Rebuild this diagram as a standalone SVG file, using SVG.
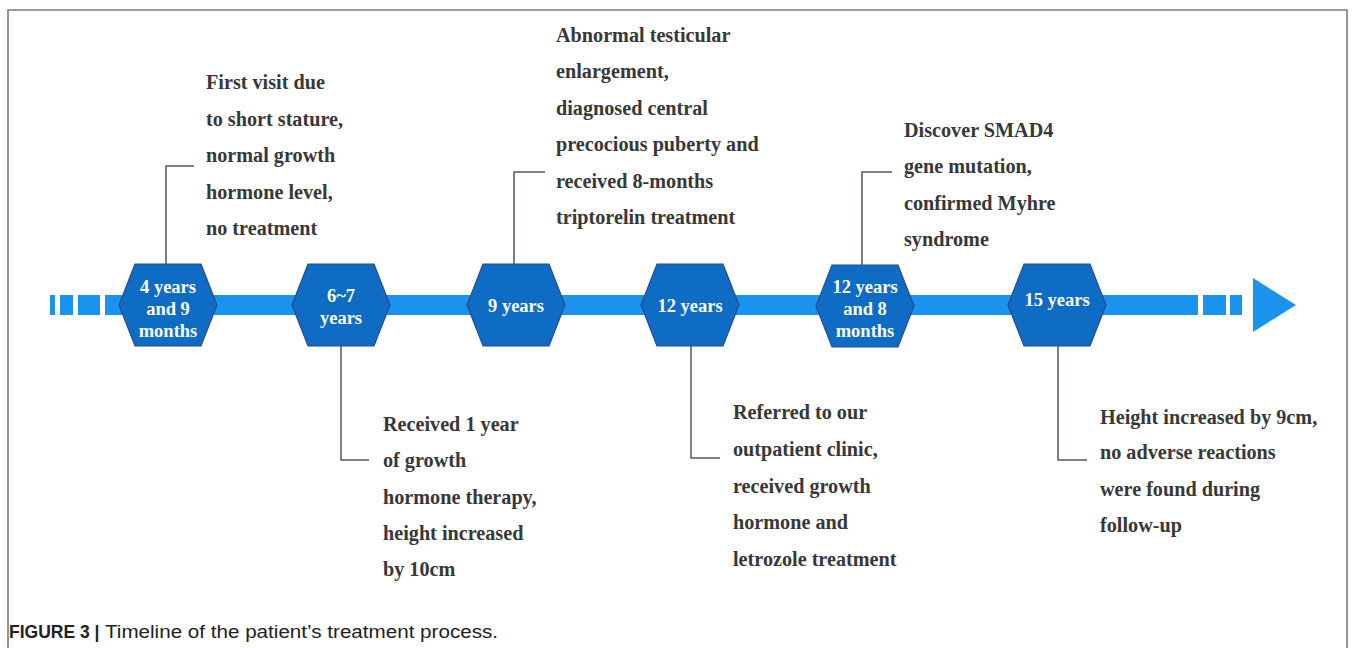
<svg xmlns="http://www.w3.org/2000/svg" width="1357" height="648" viewBox="0 0 1357 648">
<defs>
<style>
.frame{fill:none;stroke:#7a7a7a;stroke-width:1.6}
.bar{fill:#1a93ee}
.hex{fill:#0e6cc4;stroke:#2b4a8c;stroke-width:1.2}
.hl{font-family:"Liberation Serif","Times New Roman",serif;font-weight:bold;font-size:18.5px;fill:#ffffff;text-anchor:middle}
.tx{font-family:"Liberation Serif","Times New Roman",serif;font-weight:bold;font-size:20.2px;fill:#383838}
.conn{fill:none;stroke:#54566a;stroke-width:1.5}
.cap{font-family:"Liberation Sans",Arial,sans-serif;font-size:17.5px;fill:#222}
</style>
</defs>
<rect width="1357" height="648" fill="#ffffff"/>
<path class="frame" d="M8,648 V10 H1347 V648"/>
<g id="timeline">
<rect class="bar" x="50" y="295" width="5" height="20"/>
<rect class="bar" x="60" y="295" width="13" height="20"/>
<rect class="bar" x="78" y="295" width="22" height="20"/>
<rect class="bar" x="105" y="295" width="1093" height="20"/>
<rect class="bar" x="1203" y="295" width="23" height="20"/>
<rect class="bar" x="1230" y="295" width="12" height="20"/>
<polygon class="bar" points="1253,278 1296,305 1253,332"/>
</g>
<g id="connectors">
<path class="conn" d="M166,264 V166 H194"/>
<path class="conn" d="M341,346 V460 H369"/>
<path class="conn" d="M514,264 V172 H545"/>
<path class="conn" d="M691,346 V458 H720"/>
<path class="conn" d="M862,266 V172 H892"/>
<path class="conn" d="M1058,346 V460 H1087"/>
</g>
<g id="n1">
<polygon class="hex" transform="translate(168,305)" points="-49,0 -33,-41 33,-41 49,0 33,41 -33,41"/>
<text class="hl" x="168" y="293">4 years</text>
<text class="hl" x="168" y="315">and 9</text>
<text class="hl" x="168" y="337">months</text>
</g>
<g id="n2">
<polygon class="hex" transform="translate(341,305)" points="-49,0 -33,-41 33,-41 49,0 33,41 -33,41"/>
<text class="hl" x="341" y="302">6~7</text>
<text class="hl" x="341" y="324">years</text>
</g>
<g id="n3">
<polygon class="hex" transform="translate(516,305)" points="-49,0 -33,-41 33,-41 49,0 33,41 -33,41"/>
<text class="hl" x="516" y="312">9 years</text>
</g>
<g id="n4">
<polygon class="hex" transform="translate(690,305)" points="-49,0 -33,-41 33,-41 49,0 33,41 -33,41"/>
<text class="hl" x="690" y="312">12 years</text>
</g>
<g id="n5">
<polygon class="hex" transform="translate(865,306)" points="-49,0 -33,-41 33,-41 49,0 33,41 -33,41"/>
<text class="hl" x="865" y="293">12 years</text>
<text class="hl" x="865" y="315">and 8</text>
<text class="hl" x="865" y="337">months</text>
</g>
<g id="n6">
<polygon class="hex" transform="translate(1057,305)" points="-49,0 -33,-41 33,-41 49,0 33,41 -33,41"/>
<text class="hl" x="1057" y="306">15 years</text>
</g>
<g id="t1">
<text class="tx" x="206" y="89">First visit due</text>
<text class="tx" x="206" y="126">to short stature,</text>
<text class="tx" x="206" y="162">normal growth</text>
<text class="tx" x="206" y="199">hormone level,</text>
<text class="tx" x="206" y="235">no treatment</text>
</g>
<g id="t2">
<text class="tx" x="383" y="431">Received 1 year</text>
<text class="tx" x="383" y="467">of growth</text>
<text class="tx" x="383" y="504">hormone therapy,</text>
<text class="tx" x="383" y="540">height increased</text>
<text class="tx" x="383" y="576">by 10cm</text>
</g>
<g id="t3">
<text class="tx" x="556" y="42">Abnormal testicular</text>
<text class="tx" x="556" y="78">enlargement,</text>
<text class="tx" x="556" y="115">diagnosed central</text>
<text class="tx" x="556" y="151">precocious puberty and</text>
<text class="tx" x="556" y="188">received 8-months</text>
<text class="tx" x="556" y="224">triptorelin treatment</text>
</g>
<g id="t4">
<text class="tx" x="733" y="419">Referred to our</text>
<text class="tx" x="733" y="456">outpatient clinic,</text>
<text class="tx" x="733" y="493">received growth</text>
<text class="tx" x="733" y="529">hormone and</text>
<text class="tx" x="733" y="566">letrozole treatment</text>
</g>
<g id="t5">
<text class="tx" x="904" y="137">Discover SMAD4</text>
<text class="tx" x="904" y="173">gene mutation,</text>
<text class="tx" x="904" y="210">confirmed Myhre</text>
<text class="tx" x="904" y="246">syndrome</text>
</g>
<g id="t6">
<text class="tx" x="1100" y="424">Height increased by 9cm,</text>
<text class="tx" x="1100" y="459">no adverse reactions</text>
<text class="tx" x="1100" y="496">were found during</text>
<text class="tx" x="1100" y="532">follow-up</text>
</g>
<text class="cap" x="9" y="638" font-weight="bold">FIGURE 3 |</text>
<text class="cap" x="105" y="638" textLength="393" lengthAdjust="spacingAndGlyphs">Timeline of the patient’s treatment process.</text>
</svg>
